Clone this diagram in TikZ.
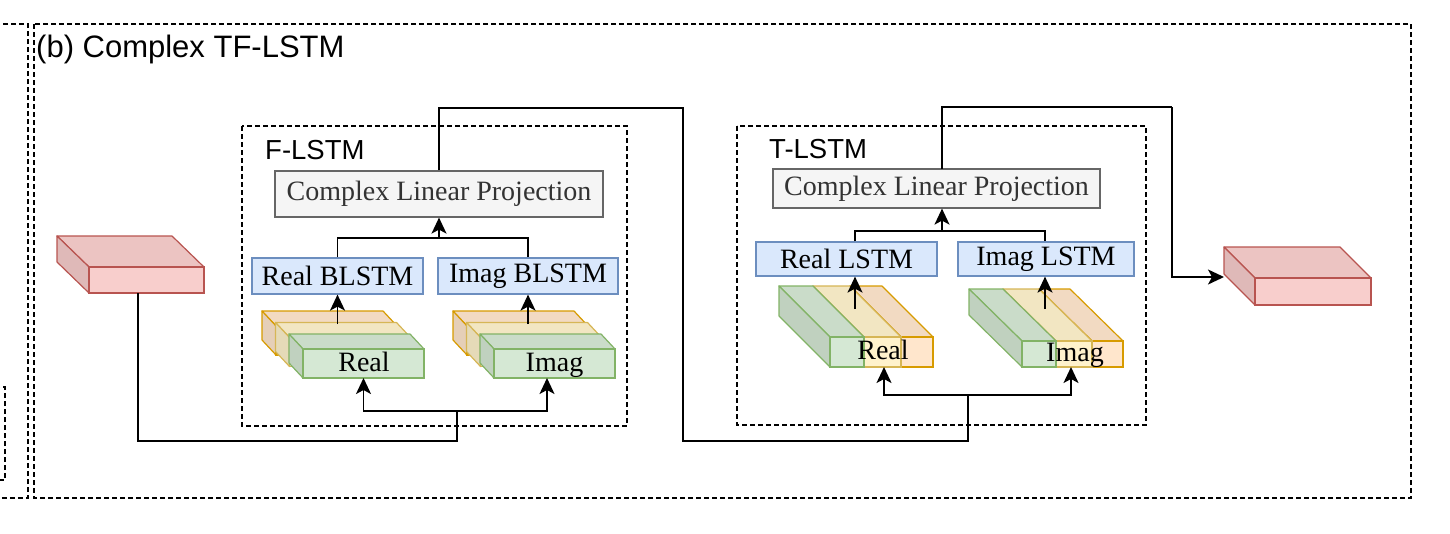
\documentclass[tikz,border=0pt]{standalone}
\usepackage{fontspec}
\setmainfont{Liberation Serif}
\newfontfamily\labelfont{Liberation Sans}
\usetikzlibrary{arrows.meta,calc}
\definecolor{redfill}{HTML}{F8CECC}
\definecolor{redline}{HTML}{B85450}
\definecolor{greenfill}{HTML}{D5E8D4}
\definecolor{greenline}{HTML}{82B366}
\definecolor{yellowfill}{HTML}{FFF2CC}
\definecolor{yellowline}{HTML}{D6B656}
\definecolor{orangefill}{HTML}{FFE6CC}
\definecolor{orangeline}{HTML}{D79B00}
\definecolor{bluefill}{HTML}{DAE8FC}
\definecolor{blueline}{HTML}{6C8EBF}
\definecolor{clpfill}{HTML}{F5F5F5}
\definecolor{clpline}{HTML}{666666}
\definecolor{clptext}{HTML}{333333}
\tikzset{
  >={Stealth[length=16pt,width=15pt,inset=4pt]},
  pics/slab/.style args={#1/#2/#3/#4/#5}{
    code={%
      \coordinate (-center) at (0,0);
      \coordinate (-north) at (0,-#2/2);
      \coordinate (-south) at (0,#2/2);
      
      \filldraw[fill=#5fill!95!black, draw=#5line, line width=1.2pt, line join=round]
        (-#1/2,-#2/2) -- ++(-#3,-#4) -- ++(#1,0) -- (#1/2,-#2/2) -- cycle;
      \filldraw[fill=#5fill!90!black, draw=#5line, line width=1.2pt, line join=round]
        (-#1/2,-#2/2) -- ++(-#3,-#4) -- ++(0,#2) -- (-#1/2,#2/2) -- cycle;
      \filldraw[fill=#5fill, draw=#5line, line width=1.2pt]
        (-#1/2,-#2/2) rectangle (#1/2,#2/2);
    }
  },
}

\begin{document}
\begin{tikzpicture}[
      x=1pt,y=-1pt,
      frame/.style={draw=black, dash pattern=on 5pt off 3pt, line width=1.2pt},
      grouplabel/.style={anchor=base west, inner sep=0pt, font=\labelfont\fontsize{27.5}{30}\selectfont},
      box/.style={draw, line width=1.2pt, inner sep=0pt, font=\fontsize{28}{30}\selectfont},
      clp/.style={box, fill=clpfill, draw=clpline, text=clptext},
      lstm/.style={box, fill=bluefill, draw=blueline},
      slabtext/.style={anchor=base, inner sep=0pt, font=\fontsize{28}{30}\selectfont},
      conn/.style={line width=1.7pt},
      ]
      \useasboundingbox (0,0) rectangle (1450,533);
      
      % frames
      \draw[frame] (-20,24) rectangle (28,498);
      \draw[frame] (-20,387) rectangle (5,480);
      \draw[frame] (34,24) rectangle (1411,498);
      \node[anchor=base west, inner sep=0pt, font=\labelfont\fontsize{31}{34}\selectfont]
        (title) at (36,57) {(b) Complex TF-LSTM};
      
      \draw[frame] (242,126) rectangle (627,426);
      \node[grouplabel] (flabel) at (265,159) {F-LSTM};
      \draw[frame] (737,126) rectangle (1146,425);
      \node[grouplabel] (tlabel) at (769,158) {T-LSTM};
      
      % input and output
      \path
        (146.5,280) pic(inbox){slab=115/26/32/31/red}
        (1313,291.5) pic(outbox){slab=116/27/31/31/red}
      ;
      
      % F-LSTM
      \node[clp, minimum width=328pt, minimum height=46pt] (fclp) at (439,194) {Complex Linear Projection};
      \node[lstm, minimum width=171pt, minimum height=36pt] (freal) at (337.5,276) {Real BLSTM};
      \node[lstm, minimum width=180pt, minimum height=36pt] (fimag) at (528,276) {Imag BLSTM};
      
      \path
        (336.5,340.5) pic    {slab=121/29/14/15/orange}
        (350,352)     pic    {slab=121/29/14/15/yellow}
        (363.5,363.5) pic(frg){slab=121/29/14/15/green}
      ;
      \path
        (527.5,340.5) pic    {slab=121/29/14/15/orange}
        (541,352)     pic    {slab=121/29/14/15/yellow}
        (554.5,363.5) pic(fig){slab=121/29/14/15/green}
      ;
      \node[slabtext] (frtext) at (364,371) {Real};
      \node[slabtext] (fitext) at (554.5,371) {Imag};
      
      % T-LSTM
      \node[clp, minimum width=327pt, minimum height=39pt] (tclp) at (936.5,188.5) {Complex Linear Projection};
      \node[lstm, minimum width=181pt, minimum height=34pt] (treal) at (846.5,259) {Real LSTM};
      \node[lstm, minimum width=176pt, minimum height=34pt] (timag) at (1046,259) {Imag LSTM};
      
      \path
        (917,352)    pic    {slab=32/30/51/51/orange}
        (882.5,352)  pic    {slab=37/30/51/51/yellow}
        (847,352)    pic(trg){slab=34/30/51/51/green}
      ;
      \path
        (1107.5,354) pic    {slab=31/26/53/52/orange}
        (1074,354)   pic    {slab=36/26/53/52/yellow}
        (1039,354)   pic(tig){slab=34/26/53/52/green}
      ;
      \node[slabtext] (trtext) at (883,359) {Real};
      \node[slabtext] (titext) at (1075,361) {Imag};
      
      % junctions
      \coordinate (fjoin) at (439,238);
      \coordinate (fsplit) at (457,411);
      \coordinate (frup) at (337.5,324);
      \coordinate (fiup) at (528,324);
      \coordinate (fiin) at (547,378);
      \coordinate (inout) at (138,293);
      \coordinate (inbend) at (138,441);
      \coordinate (mid1) at (683,108);
      \coordinate (mid2) at (683,441);
      \coordinate (tjoin) at (942,231);
      \coordinate (tsplit) at (968,395);
      \coordinate (trup) at (855,309);
      \coordinate (tiup) at (1045,309);
      \coordinate (trin) at (884,367);
      \coordinate (tiin) at (1071,367);
      \coordinate (tout) at (942,169);
      \coordinate (rt) at (1172,107);
      \coordinate (outin) at (1224,277);
      
      % F-LSTM connectors
      \draw[conn] (freal.north) |- (fjoin) -| (fimag.north);
      \draw[conn,->] (fjoin) -- (fclp.south);
      \draw[conn,->] (frup) -- (freal.south);
      \draw[conn,->] (fiup) -- (fimag.south);
      \draw[conn,->] (fsplit) -| (frg-south);
      \draw[conn,->] (fsplit) -| (fiin);
      \draw[conn] (inout) -- (inbend) -| (fsplit);
      
      % F-LSTM to T-LSTM
      \draw[conn] (fclp.north) |- (mid1) -- (mid2) -| (tsplit);
      
      % T-LSTM connectors
      \draw[conn] (trup |- treal.north) |- (tjoin) -| (tiup |- timag.north);
      \draw[conn,->] (tjoin) -- (tjoin |- tclp.south);
      \draw[conn,->] (trup) -- (trup |- treal.south);
      \draw[conn,->] (tiup) -- (tiup |- timag.south);
      \draw[conn,->] (tsplit) -| (trin);
      \draw[conn,->] (tsplit) -| (tiin);
      \draw[conn] (tout) |- (rt);
      \draw[conn,->] (rt) |- (outin);
\end{tikzpicture}
\end{document}
